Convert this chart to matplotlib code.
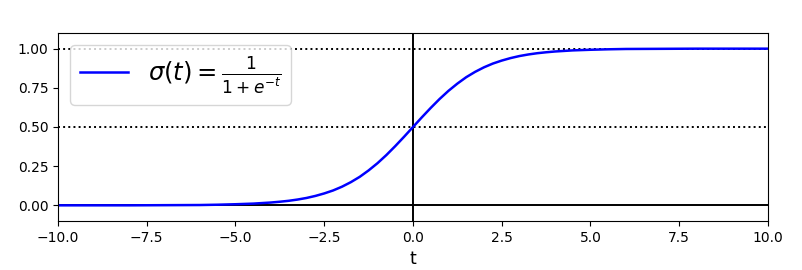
import numpy as np
from matplotlib import pyplot as plt

# Verdier lest av figuren (sigmoid-kurven)
t = [-10.0, -9.0, -8.0, -7.0, -6.0, -5.5, -5.0, -4.5, -4.0, -3.75, -3.5, -3.25,
     -3.0, -2.75, -2.5, -2.25, -2.0, -1.75, -1.5, -1.25, -1.0, -0.75, -0.5, -0.25, 0.0,
     0.25, 0.5, 0.75, 1.0, 1.25, 1.5, 1.75, 2.0, 2.25, 2.5, 2.75, 3.0,
     3.25, 3.5, 3.75, 4.0, 4.5, 5.0, 5.5, 6.0, 7.0, 8.0, 9.0, 10.0]
sig = [0.000, 0.000, 0.000, 0.001, 0.002, 0.004, 0.007, 0.011, 0.018, 0.023, 0.029, 0.037,
       0.047, 0.060, 0.076, 0.095, 0.119, 0.148, 0.182, 0.223, 0.269, 0.321, 0.378, 0.438, 0.500,
       0.562, 0.622, 0.679, 0.731, 0.777, 0.818, 0.852, 0.881, 0.905, 0.924, 0.940, 0.953,
       0.963, 0.971, 0.977, 0.982, 0.989, 0.993, 0.996, 0.998, 0.999, 1.000, 1.000, 1.000]

# Hjelpelinjer
h_solid = [0.0]
h_dotted = [0.5, 1.0]
v_solid = [0.0]

fig = plt.figure(figsize=(8.03, 2.7), dpi=100)
ax = fig.add_axes([58/803, 1 - 221/270, 710/803, 188/270])

for y in h_solid:
    ax.plot([-10, 10], [y, y], "k-", linewidth=1.4)
for y in h_dotted:
    ax.plot([-10, 10], [y, y], "k:", linewidth=1.4)
for x in v_solid:
    ax.plot([x, x], [-1.1, 1.1], "k-", linewidth=1.4)
ax.plot(t, sig, "b-", linewidth=1.8, label=r"$\sigma(t) = \frac{1}{1 + e^{-t}}$")

ax.set_xlabel("t", fontsize=12.5)
ax.tick_params(labelsize=10)
ax.legend(loc="upper left", fontsize=17.5)
ax.axis([-10, 10, -0.1, 1.1])

fig.savefig("out.png", dpi=100)
